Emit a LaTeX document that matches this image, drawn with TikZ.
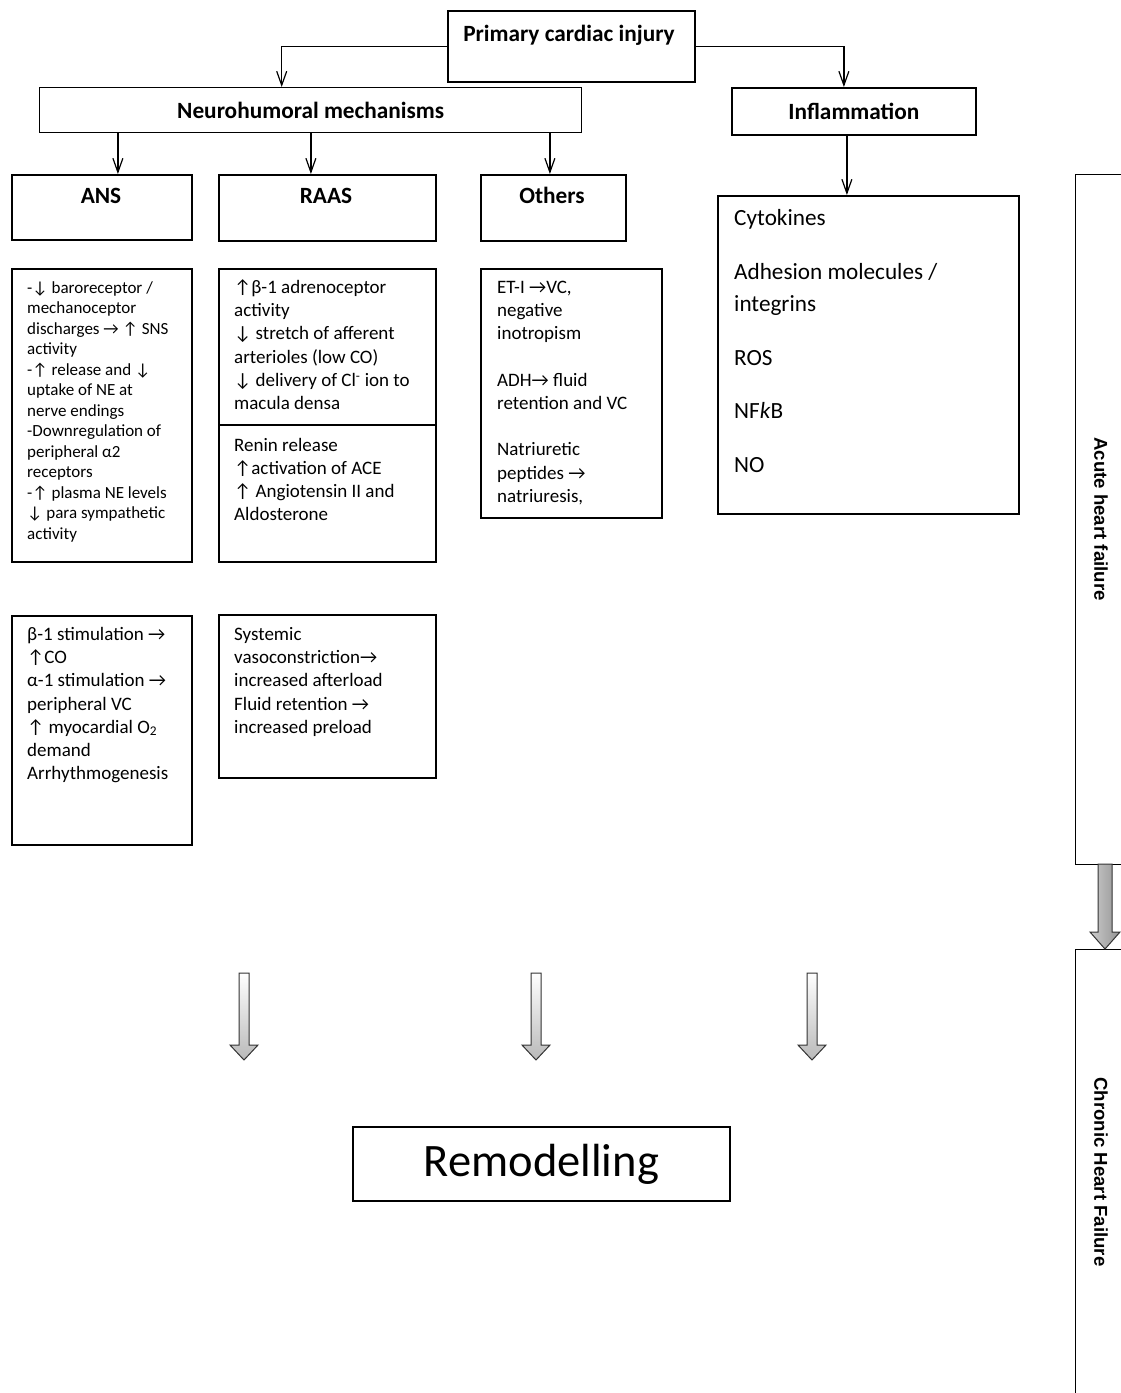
\documentclass[tikz,border=0pt]{standalone}
\usepackage{fontspec}
\setmainfont{Carlito}
\newfontfamily\sidefont{Liberation Sans}
\usetikzlibrary{arrows.meta}
\newcommand\hdrsize{\fontsize{23.3}{27}\selectfont}
\newcommand\ansize{\fontsize{17}{20.5}\selectfont}
\newcommand\bodysize{\fontsize{19}{23.2}\selectfont}
\newcommand\cytosize{\fontsize{23.2}{32}\selectfont}
\newcommand\remsize{\fontsize{46.5}{52}\selectfont}

\begin{document}
\begin{tikzpicture}[x=1pt,y=-1pt,
  box/.style={draw,line width=1.8pt,anchor=north west,inner sep=0pt},
  hdr/.style={font=\hdrsize\bfseries,anchor=base,inner sep=0pt},
  txt/.style={anchor=base west,align=flush left,inner sep=0pt,text width=#1},
  arr/.style={line width=1.2pt,-{Straight Barb[length=14pt,width=10pt,line width=1.2pt]}},
  sidelabel/.style={font=\sidefont\bfseries\fontsize{18.6}{22}\selectfont,rotate=-90,inner sep=0pt},
  blk/.style={draw=black!80,line width=1pt,top color=white,bottom color=gray!55}]
 \useasboundingbox (0,0) rectangle (1121,1393);
 % ---- top level ----
 \node[box,minimum width=247pt,minimum height=71pt] (prim) at (447,10) {};
 \node[hdr] (primT) at (569,41.5) {Primary cardiac injury};
 \node[box,line width=1.4pt,minimum width=542pt,minimum height=45pt,font=\hdrsize\bfseries] (neuro) at (39,87) {Neurohumoral mechanisms};
 \node[box,minimum width=244pt,minimum height=47pt,font=\hdrsize\bfseries] (infl) at (731,87) {Inflammation};
 \draw[arr] (prim.west) -| ([xshift=-29pt]neuro.north);
 \draw[arr] (prim.east) -| ([xshift=-10pt]infl.north);
 % ---- second level ----
 \node[box,minimum width=180pt,minimum height=65pt] (ans) at (11,174) {};
 \node[box,minimum width=217pt,minimum height=66pt] (raas) at (218,174) {};
 \node[box,minimum width=145pt,minimum height=66pt] (oth) at (480,174) {};
 \node[hdr] (ansT) at (101,203.5) {ANS};
 \node[hdr] (raasT) at (326,203.5) {RAAS};
 \node[hdr] (othT) at (552,203.5) {Others};
 \draw[arr] ([xshift=16pt]ans.north |- neuro.south) -- ([xshift=16pt]ans.north);
 \draw[arr] ([xshift=-16.5pt]raas.north |- neuro.south) -- ([xshift=-16.5pt]raas.north);
 \draw[arr] ([xshift=-3.5pt]oth.north |- neuro.south) -- ([xshift=-3.5pt]oth.north);
 % ---- inflammation mediators ----
 \node[box,minimum width=301pt,minimum height=318pt] (cyto) at (717,195) {};
 \draw[arr] ([xshift=-7pt]infl.south) -- ([xshift=-7pt]infl.south |- cyto.north);
 \node[txt=280pt,font=\cytosize] (cytoT) at (734,225) {Cytokines\\[22pt]
   Adhesion molecules /\\ integrins\\[22pt] ROS\\[21pt] NF\textit{k}B\\[22pt] NO};
 % ---- mechanisms ----
 \node[box,minimum width=180pt,minimum height=293pt] (ansD) at (11,268) {};
 \node[txt=170pt,font=\ansize] (ansDT) at (27,293) {-↓ baroreceptor /\\ mechanoceptor\\
   discharges → ↑ SNS\\ activity\\ -↑ release and ↓\\ uptake of NE at\\ nerve endings\\
   -Downregulation of\\ peripheral α2\\ receptors\\ -↑ plasma NE levels\\
   ↓ para sympathetic\\ activity};
 \node[box,minimum width=217pt,minimum height=156pt] (raasA) at (218,268) {};
 \node[box,minimum width=217pt,minimum height=137pt] (raasB) at (218,424) {};
 \node[txt=200pt,font=\bodysize] (raasAT) at (234,293.5) {↑β-1 adrenoceptor\\ activity\\
   ↓ stretch of afferent\\ arterioles (low CO)\\ ↓ delivery of Cl\textsuperscript{-} ion to\\ macula densa};
 \node[txt=200pt,font=\bodysize] (raasBT) at (234,451) {Renin release\\ ↑activation of ACE\\
   ↑ Angiotensin II and\\ Aldosterone};
 \node[box,minimum width=181pt,minimum height=249pt] (othD) at (480,268) {};
 \node[txt=170pt,font=\bodysize] (othDT) at (497,293.5) {ET-I →VC,\\ negative\\ inotropism\\[23.2pt]
   ADH→ fluid\\ retention and VC\\[23.2pt] Natriuretic\\ peptides →\\ natriuresis,};
 % ---- effects ----
 \node[box,minimum width=180pt,minimum height=229pt] (ansE) at (11,615) {};
 \node[txt=170pt,font=\bodysize] (ansET) at (27,640.5) {β-1 stimulation →\\ ↑CO\\
   α-1 stimulation →\\ peripheral VC\\ ↑ myocardial O\textsubscript{2}\\ demand\\ Arrhythmogenesis};
 \node[box,minimum width=217pt,minimum height=163pt] (raasE) at (218,614) {};
 \node[txt=200pt,font=\bodysize] (raasET) at (234,640.5) {Systemic\\ vasoconstriction→\\
   increased afterload\\ Fluid retention →\\ increased preload};
 % ---- hollow arrows ----
 \foreach \x in {244,536,812}
   \draw[blk] (\x-5,973) -- (\x+5,973) -- (\x+5,1045) -- (\x+14,1045) -- (\x,1060)
     -- (\x-14,1045) -- (\x-5,1045) -- cycle;
 \node[box,minimum width=377pt,minimum height=74pt,font=\remsize] (remod) at (352,1126) {Remodelling};
 % ---- stages at the right ----
 \node[box,line width=1.2pt,minimum width=60pt,minimum height=690pt] (acute) at (1075,174) {};
 \node[box,line width=1.2pt,minimum width=60pt,minimum height=470pt] (chronic) at (1075,949) {};
 \node[sidelabel] (acuteT) at (1101,519) {Acute heart failure};
 \node[sidelabel] (chronicT) at (1101,1172) {Chronic Heart Failure};
 \draw[draw=black!80,line width=1pt,left color=gray!40,right color=gray!85]
   (1098,864) -- (1112,864) -- (1112,932) -- (1120,932) -- (1105,949) -- (1090,932)
   -- (1098,932) -- cycle;
\end{tikzpicture}
\end{document}
